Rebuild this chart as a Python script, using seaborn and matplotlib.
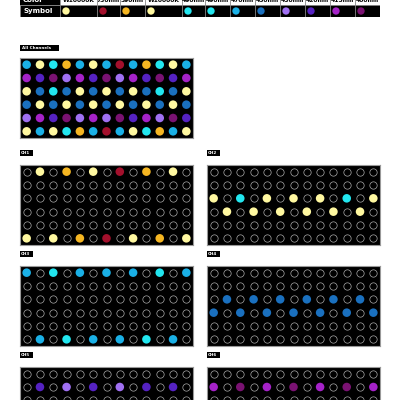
import numpy as np
import pandas as pd
import matplotlib
matplotlib.use("Agg")
import matplotlib.pyplot as plt
import seaborn as sns

# LED types in table order
led_labels = ["W10000K", "730nm", "590nm", "W10000K", "490nm", "490nm",
              "470nm", "450nm", "430nm", "420nm", "415nm", "400nm"]
led_keys = ["W", "730", "590", "W", "490", "490", "470", "450", "430", "420", "415", "400"]
led_colors = {"W": "#fff8a0", "730": "#a3102c", "590": "#f5b622", "490": "#22e6ef",
              "470": "#1ab0e6", "450": "#1a70bf", "430": "#a070f2", "420": "#5522c2",
              "415": "#a522c8", "400": "#7a1272"}
col_edges_px = [60, 97, 120, 145, 182, 205, 230, 255, 280, 305, 330, 355, 380]

# 6 x 13 layout of the fixture
layout = [
    ["470", "W", "490", "590", "470", "W", "470", "730", "470", "590", "490", "W", "470"],
    ["415", "420", "400", "430", "415", "420", "400", "430", "415", "420", "400", "420", "415"],
    ["W", "450", "490", "450", "W", "450", "W", "450", "W", "450", "490", "450", "W"],
    ["450", "W", "450", "W", "450", "W", "450", "W", "450", "W", "450", "W", "450"],
    ["430", "415", "420", "400", "430", "415", "430", "400", "420", "415", "430", "400", "420"],
    ["W", "470", "W", "490", "590", "470", "730", "470", "W", "490", "590", "470", "W"],
]
channels = [
    [3, 1, 3, 1, 3, 1, 3, 1, 3, 1, 3, 1, 3],
    [6, 5, 6, 5, 6, 5, 6, 5, 6, 5, 6, 5, 6],
    [2, 4, 2, 4, 2, 4, 2, 4, 2, 4, 2, 4, 2],
    [4, 2, 4, 2, 4, 2, 4, 2, 4, 2, 4, 2, 4],
    [5, 6, 5, 6, 5, 6, 5, 6, 5, 6, 5, 6, 5],
    [1, 3, 1, 3, 1, 3, 1, 3, 1, 3, 1, 3, 1],
]

rows = []
for r in range(6):
    for c in range(13):
        rows.append({"row": r, "col": c, "led": layout[r][c], "ch": channels[r][c]})
df = pd.DataFrame(rows)

fig = plt.figure(figsize=(4, 4), dpi=100)
fig.patch.set_facecolor("white")


def px_axes(x, y, w, h):
    return fig.add_axes([x / 400, 1 - (y + h) / 400, w / 400, h / 400])


def label_box(x, y, text, w):
    ax = px_axes(x, y, w, 6)
    ax.set_facecolor("black")
    ax.set_xticks([]); ax.set_yticks([])
    for s in ax.spines.values():
        s.set_visible(False)
    ax.text(0.05, 0.5, text, color="white", fontsize=3, fontweight="bold",
            va="center", ha="left", transform=ax.transAxes)


def grid_axes(x, y, data, ch=None):
    ax = px_axes(x, y, 173, 80)
    ax.set_facecolor("black")
    if ch is None:
        on = data
    else:
        on = data[data["ch"] == ch]
        off = data[data["ch"] != ch]
        sns.scatterplot(data=off, x="col", y="row", ax=ax, s=28, color="black",
                        edgecolor="#aaaaaa", linewidth=0.5, legend=False)
    sns.scatterplot(data=on, x="col", y="row", hue="led", palette=led_colors, ax=ax,
                    s=38, edgecolor="none", legend=False)
    ax.set_xlim(-0.5, 12.5); ax.set_ylim(5.5, -0.5)
    ax.set_xticks([]); ax.set_yticks([])
    for s in ax.spines.values():
        s.set_color("#999999"); s.set_linewidth(0.8)
    ax.set_xlabel(""); ax.set_ylabel("")
    return ax


# legend table
tab = px_axes(20, -7, 360, 24)
tab.axis("off")
tab.add_patch(plt.Rectangle((20, -7), 360, 12, facecolor="white", edgecolor="#888888", lw=0.6))
tab.add_patch(plt.Rectangle((20, -7), 40, 12, facecolor="black"))
tab.add_patch(plt.Rectangle((20, 5), 360, 12, facecolor="black", edgecolor="#888888", lw=0.6))
tab.text(23, 0, "Color", color="white", fontsize=5, fontweight="bold", va="center")
tab.text(23, 11, "Symbol", color="white", fontsize=5, fontweight="bold", va="center")
centers = []
for i, lab in enumerate(led_labels):
    x0, x1 = col_edges_px[i], col_edges_px[i + 1]
    tab.plot([x0, x0], [-7, 17], color="#888888", lw=0.6)
    tab.text((x0 + x1) / 2, 0, lab, color="black", fontsize=4.3, fontweight="bold",
             ha="center", va="center")
    centers.append(x0 + 6)
sym = pd.DataFrame({"x": centers, "y": [11] * 12, "led": led_keys})
sns.scatterplot(data=sym, x="x", y="y", hue="led", palette=led_colors, ax=tab, s=28,
                edgecolor="none", legend=False)
tab.set_xlim(20, 380); tab.set_ylim(17, -7)
tab.set_xlabel(""); tab.set_ylabel("")

label_box(20, 45, "All Channels", 39)
grid_axes(20, 58, df)

positions = [(20, 165), (207, 165), (20, 266), (207, 266), (20, 367), (207, 367)]
for ch, (x, y) in enumerate(positions, start=1):
    label_box(x, y - 15, f"CH{ch}", 13)
    grid_axes(x, y, df, ch)

fig.savefig("out.png", dpi=100, facecolor="white")
